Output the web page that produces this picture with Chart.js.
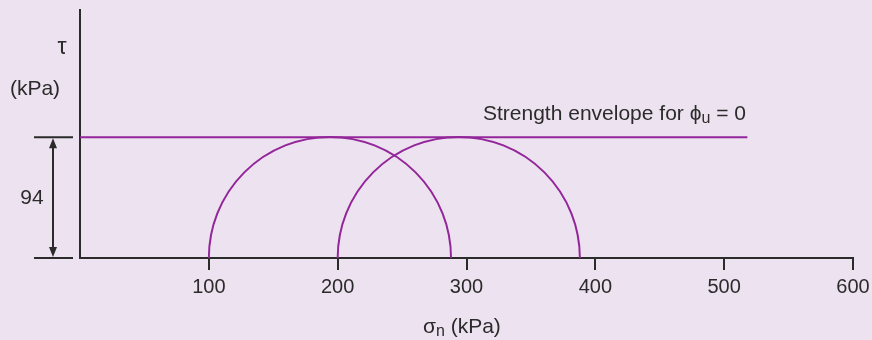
<!DOCTYPE html>
<html>
<head>
<meta charset="utf-8">
<script src="https://cdn.jsdelivr.net/npm/chart.js@4.4.1/dist/chart.umd.min.js"></script>
<style>
  html, body { margin: 0; padding: 0; background: #ede2ef; }
  #wrap { width: 872px; height: 340px; }
</style>
</head>
<body>
<div id="wrap"><canvas id="mohr" width="872" height="340"></canvas></div>
<script>
// values (kPa)
const xTicks = [100, 200, 300, 400, 500, 600];
const envelopeSigma = [0, 518];
const envelopeTau = [94, 94];
const circleSigma3 = [100, 200];
const circleSigma1 = [288, 388];
const cu = 94;

const purple = "#93269a";
const ink = "#2b2b2b";
const bg = "#ede2ef";
const fontFamily = "'Liberation Sans', Arial, sans-serif";

// draw "main" + smaller subscript text, left aligned
function drawSub(ctx, x, y, main, sub, after, size) {
  ctx.font = `${size}px ${fontFamily}`;
  ctx.fillText(main, x, y);
  x += ctx.measureText(main).width;
  ctx.font = `${Math.round(size * 0.75)}px ${fontFamily}`;
  ctx.fillText(sub, x, y + size * 0.22);
  x += ctx.measureText(sub).width;
  ctx.font = `${size}px ${fontFamily}`;
  ctx.fillText(after, x, y);
}

const mohrPlugin = {
  id: "mohr",
  beforeDraw(chart) {
    const { ctx } = chart;
    ctx.save();
    ctx.fillStyle = bg;
    ctx.fillRect(0, 0, chart.width, chart.height);
    ctx.restore();
  },
  afterDatasetsDraw(chart) {
    const { ctx, scales } = chart;
    const x = scales.x, y = scales.y;
    ctx.save();
    ctx.strokeStyle = purple;
    ctx.lineWidth = 2;
    // Mohr circles, upper halves only
    for (let i = 0; i < circleSigma3.length; i++) {
      const c = (circleSigma3[i] + circleSigma1[i]) / 2;
      const r = (circleSigma1[i] - circleSigma3[i]) / 2;
      const px = x.getPixelForValue(c);
      const py = y.getPixelForValue(0);
      const pr = x.getPixelForValue(c + r) - px;
      ctx.beginPath();
      ctx.arc(px, py, pr, Math.PI, 2 * Math.PI);
      ctx.stroke();
    }
    ctx.restore();
  },
  afterDraw(chart) {
    const { ctx, scales } = chart;
    const y = scales.y;
    const y0 = y.getPixelForValue(0);
    const y94 = y.getPixelForValue(cu);
    ctx.save();
    ctx.fillStyle = ink;
    ctx.strokeStyle = ink;
    ctx.textBaseline = "middle";

    // dimension lines and arrow for c_u
    ctx.lineWidth = 2;
    ctx.beginPath();
    ctx.moveTo(34, y94); ctx.lineTo(73, y94);
    ctx.moveTo(34, y0); ctx.lineTo(73, y0);
    ctx.moveTo(53, y94 + 6); ctx.lineTo(53, y0 - 6);
    ctx.stroke();
    ctx.beginPath();
    ctx.moveTo(53, y94 + 1); ctx.lineTo(49, y94 + 11); ctx.lineTo(57, y94 + 11);
    ctx.closePath();
    ctx.moveTo(53, y0 - 1); ctx.lineTo(49, y0 - 11); ctx.lineTo(57, y0 - 11);
    ctx.closePath();
    ctx.fill();

    ctx.font = `21px ${fontFamily}`;
    ctx.textAlign = "center";
    ctx.fillText(String(cu), 32, (y0 + y94) / 2 + 1);
    ctx.fillText("(kPa)", 35, 89);
    ctx.font = `23px ${fontFamily}`;
    ctx.fillText("\u03c4", 62, 48);

    ctx.textAlign = "left";
    drawSub(ctx, 483, 114, "Strength envelope for \u03d5", "u", " = 0", 21);
    drawSub(ctx, 423, 327, "\u03c3", "n", " (kPa)", 21);
    ctx.restore();
  },
};

const ctx = document.getElementById("mohr").getContext("2d");
new Chart(ctx, {
  type: "scatter",
  data: {
    datasets: [
      {
        label: "Strength envelope",
        data: envelopeSigma.map((s, i) => ({ x: s, y: envelopeTau[i] })),
        showLine: true,
        borderColor: purple,
        borderWidth: 2,
        pointRadius: 0,
      },
    ],
  },
  options: {
    responsive: false,
    animation: false,
    layout: { padding: { left: 80, right: 19, top: 10, bottom: 0 } },
    plugins: {
      legend: { display: false },
      tooltip: { enabled: false },
    },
    scales: {
      x: {
        type: "linear",
        min: 0,
        max: 600,
        afterFit: (scale) => {
          scale.height = 82;
          scale.paddingLeft = 0;
          scale.paddingRight = 0;
        },
        afterBuildTicks: (scale) => {
          scale.ticks = [0, ...xTicks].map((v) => ({ value: v }));
        },
        ticks: {
          color: ink,
          padding: 5,
          font: { family: fontFamily, size: 20 },
          callback: (v) => (v === 0 ? "" : v),
        },
        grid: {
          drawOnChartArea: false,
          drawTicks: true,
          tickLength: 12,
          lineWidth: 2,
          color: (c) => (c.tick && c.tick.value === 0 ? "rgba(0,0,0,0)" : ink),
        },
        border: { display: true, color: ink, width: 2 },
      },
      y: {
        type: "linear",
        min: 0,
        max: 193,
        afterFit: (scale) => { scale.width = 0; },
        ticks: { display: false },
        grid: { display: false },
        border: { display: true, color: ink, width: 2 },
      },
    },
  },
  plugins: [mohrPlugin],
});
</script>
</body>
</html>
